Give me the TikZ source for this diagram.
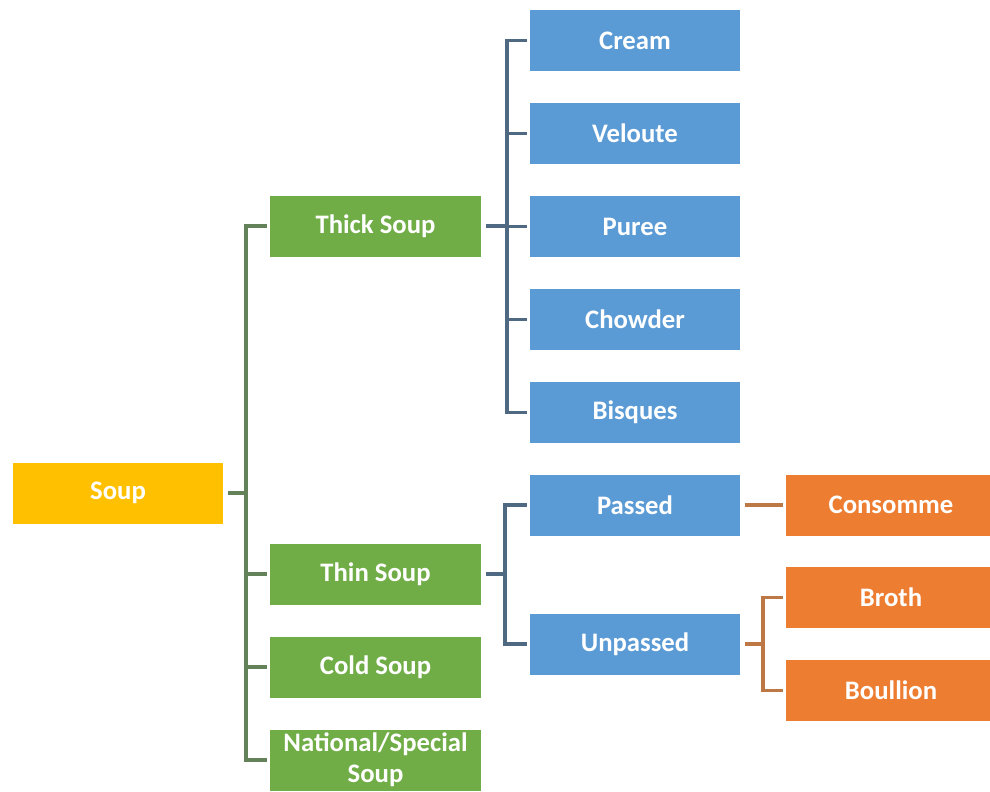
\documentclass[tikz,border=0pt]{standalone}
\usepackage{fontspec}
\setmainfont{Carlito}
\usepackage{tikz}
\usetikzlibrary{positioning}
\usepackage{xcolor}
\definecolor{soupyellow}{HTML}{FFC000}
\definecolor{soupgreen}{HTML}{70AD47}
\definecolor{soupblue}{HTML}{5B9BD5}
\definecolor{souporange}{HTML}{ED7D31}
\definecolor{glinecol}{RGB}{100,130,90}
\definecolor{blinecol}{RGB}{80,105,130}
\definecolor{olinecol}{RGB}{190,120,70}

\begin{document}
\begin{tikzpicture}[x=0.025cm, y=-0.025cm,
    box/.style={rectangle, inner sep=0pt, minimum width=5.25cm, minimum height=1.525cm,
        text=white, font=\fontsize{19}{22}\selectfont\bfseries, align=center},
    ybox/.style={box, fill=soupyellow},
    gbox/.style={box, fill=soupgreen},
    bbox/.style={box, fill=soupblue},
    obox/.style={box, fill=souporange},
    link/.style={line width=2.5pt, shorten <=3.5pt, shorten >=2pt},
    bar/.style={line width=2.5pt, shorten >=2pt}]
    \useasboundingbox (0,0) rectangle (990,791);

    \node[ybox] (soup) at (118,493) {Soup};

    \node[gbox] (thick) at (375.5,226) {Thick Soup};
    \node[gbox] (thin) at (375.5,574) {Thin Soup};
    \node[gbox] (cold) at (375.5,667) {Cold Soup};
    \node[gbox] (natl) at (375.5,760) {National/Special\\Soup};

    \node[bbox] (cream) at (635,40.5) {Cream};
    \node[bbox] (veloute) at (635,133.5) {Veloute};
    \node[bbox] (puree) at (635,226.5) {Puree};
    \node[bbox] (chowder) at (635,319.5) {Chowder};
    \node[bbox] (bisques) at (635,412.5) {Bisques};

    \node[bbox] (passed) at (635,505) {Passed};
    \node[bbox] (unpassed) at (635,644) {Unpassed};

    \node[obox] (consomme) at (891,505) {Consomme};
    \node[obox] (broth) at (891,597.5) {Broth};
    \node[obox] (boullion) at (891,690.5) {Boullion};

    \coordinate (gbus) at (246,493);
    \coordinate (bbus) at (507,226);
    \coordinate (tbus) at (505,574);
    \coordinate (obus) at (763,644);

    \draw[link, glinecol, shorten >=0pt] (soup.east) -- (gbus);
    \foreach \n in {thick,thin,cold,natl} {
        \draw[bar, glinecol] (gbus) |- (\n.west);
    }

    \draw[link, blinecol, shorten >=0pt] (thick.east) -- (bbus);
    \foreach \n in {cream,veloute,puree,chowder,bisques} {
        \draw[bar, blinecol] (bbus) |- (\n.west);
    }

    \draw[link, blinecol, shorten >=0pt] (thin.east) -- (tbus);
    \foreach \n in {passed,unpassed} {
        \draw[bar, blinecol] (tbus) |- (\n.west);
    }

    \draw[link, olinecol] (passed.east) -- (consomme.west);
    \draw[link, olinecol, shorten >=0pt] (unpassed.east) -- (obus);
    \foreach \n in {broth,boullion} {
        \draw[bar, olinecol] (obus) |- (\n.west);
    }
\end{tikzpicture}
\end{document}
